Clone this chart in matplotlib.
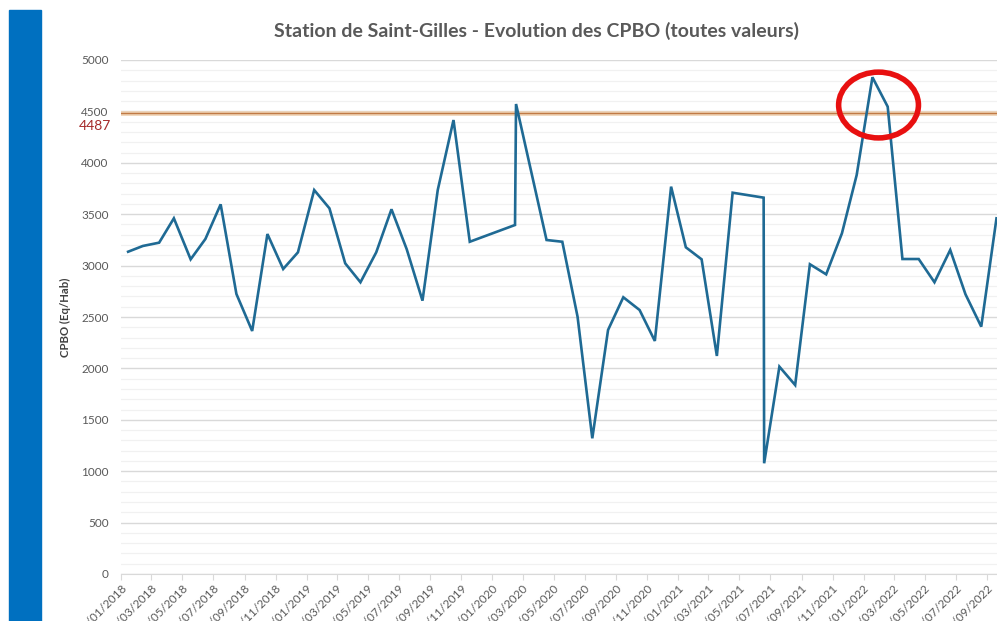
import matplotlib
matplotlib.use('Agg')
import matplotlib.pyplot as plt
import matplotlib.dates as mdates
import matplotlib.transforms as mtransforms
from matplotlib.patches import Rectangle, Ellipse
import numpy as np
import pandas as pd

plt.rcParams['font.family'] = ['Lato', 'DejaVu Sans']

# ── data ─────────────────────────────────────────────────────────────────────
dates = [
    '2018-01-15', '2018-02-13', '2018-03-17', '2018-04-15', '2018-05-18',
    '2018-06-16', '2018-07-16', '2018-08-16', '2018-09-16', '2018-10-16',
    '2018-11-16', '2018-12-15', '2019-01-16', '2019-02-15', '2019-03-18',
    '2019-04-17', '2019-05-18', '2019-06-17', '2019-07-17', '2019-08-17',
    '2019-09-16', '2019-10-17', '2019-11-18', '2020-02-15', '2020-02-17',
    '2020-04-17', '2020-05-18', '2020-06-17', '2020-07-16', '2020-08-16',
    '2020-09-15', '2020-10-17', '2020-11-16', '2020-12-18', '2021-01-16',
    '2021-02-16', '2021-03-18', '2021-04-18', '2021-06-18', '2021-06-19',
    '2021-07-19', '2021-08-19', '2021-09-17', '2021-10-19', '2021-11-19',
    '2021-12-18', '2022-01-18', '2022-02-17', '2022-03-18', '2022-04-19',
    '2022-05-20', '2022-06-20', '2022-07-20', '2022-08-20', '2022-09-19',
]
cpbo = [
    3135, 3191, 3223, 3460, 3061, 3259, 3596, 2724, 2364, 3307,
    2967, 3129, 3735, 3557, 3022, 2838, 3129, 3548, 3159, 2659,
    3735, 4416, 3232, 3395, 4572, 3249, 3232, 2503, 1320, 2374,
    2692, 2568, 2267, 3768, 3178, 3061, 2121, 3709, 3661, 1077,
    2017, 1838, 3013, 2915, 3314, 3881, 4832, 4546, 3064, 3064,
    2838, 3152, 2721, 2406, 3460,
]
threshold = 4487
title = 'Station de Saint-Gilles - Evolution des CPBO (toutes valeurs)'
ylabel = 'CPBO (Eq/Hab)'

df = pd.DataFrame({'date': pd.to_datetime(dates), 'cpbo': cpbo})

# ── figure ───────────────────────────────────────────────────────────────────
W, H = 997, 621
fig = plt.figure(figsize=(W / 100, H / 100), dpi=100)
fig.patch.set_facecolor('white')

# blue side band
fig.patches.append(Rectangle((9 / W, 0), 32 / W, (H - 10) / H,
                             transform=fig.transFigure, color='#0070C0',
                             zorder=0))

ax = fig.add_axes([121 / W, 47 / H, (W - 121) / W, (574 - 60) / H])
ax.set_facecolor('white')

grey = '#595959'
ax.set_ylim(0, 5000)
ax.set_xlim(pd.Timestamp('2018-01-01'), pd.Timestamp('2022-09-20'))

ax.yaxis.set_major_locator(plt.MultipleLocator(500))
ax.yaxis.set_minor_locator(plt.MultipleLocator(100))
ax.grid(axis='y', which='major', color='#D9D9D9', lw=1.0)
ax.grid(axis='y', which='minor', color='#F1F1F1', lw=0.9)
ax.set_axisbelow(True)
ax.tick_params(axis='y', which='both', length=0, pad=9,
               labelsize=8.5, labelcolor=grey)

ax.xaxis.set_major_locator(mdates.MonthLocator(bymonth=[1, 3, 5, 7, 9, 11]))
ax.xaxis.set_major_formatter(mdates.DateFormatter('%d/%m/%Y'))
ax.tick_params(axis='x', length=4, color='#D9D9D9', pad=2,
               labelsize=8.5, labelcolor=grey)
for lbl in ax.get_xticklabels():
    lbl.set_rotation(45)
    lbl.set_ha('right')
    lbl.set_rotation_mode('anchor')

for side in ['top', 'right', 'left']:
    ax.spines[side].set_visible(False)
ax.spines['bottom'].set_color('#D9D9D9')

# threshold line
ax.axhline(threshold, color='#EFD3B5', lw=3.4, zorder=2)
ax.axhline(threshold, color='#C07A45', lw=1.0, zorder=2)
trans = mtransforms.blended_transform_factory(ax.transAxes, ax.transData)
ax.annotate(str(threshold), xy=(0, threshold), xycoords=trans,
            xytext=(-10, -13), textcoords='offset pixels',
            ha='right', va='center', fontsize=10, color='#A52A2A')

# series
ax.plot(df['date'], df['cpbo'], color='#1F6A94', lw=1.9, zorder=3,
        solid_joinstyle='miter')

ax.set_ylabel(ylabel, fontsize=8.2, fontweight='bold', color='#404040',
              labelpad=7)

# red circle around the peak
peak = df.loc[df['cpbo'].idxmax()]
ax.add_patch(Ellipse((peak['date'] + pd.Timedelta(days=12), peak['cpbo'] - 270),
                     width=157, height=640, fill=False, edgecolor='#E81010',
                     lw=4, zorder=5, clip_on=False))

fig.text(536 / W, 1 - 31 / H, title, ha='center', va='center',
         fontsize=14, fontweight='bold', color=grey)

fig.savefig('out.png', dpi=100, facecolor='white')
